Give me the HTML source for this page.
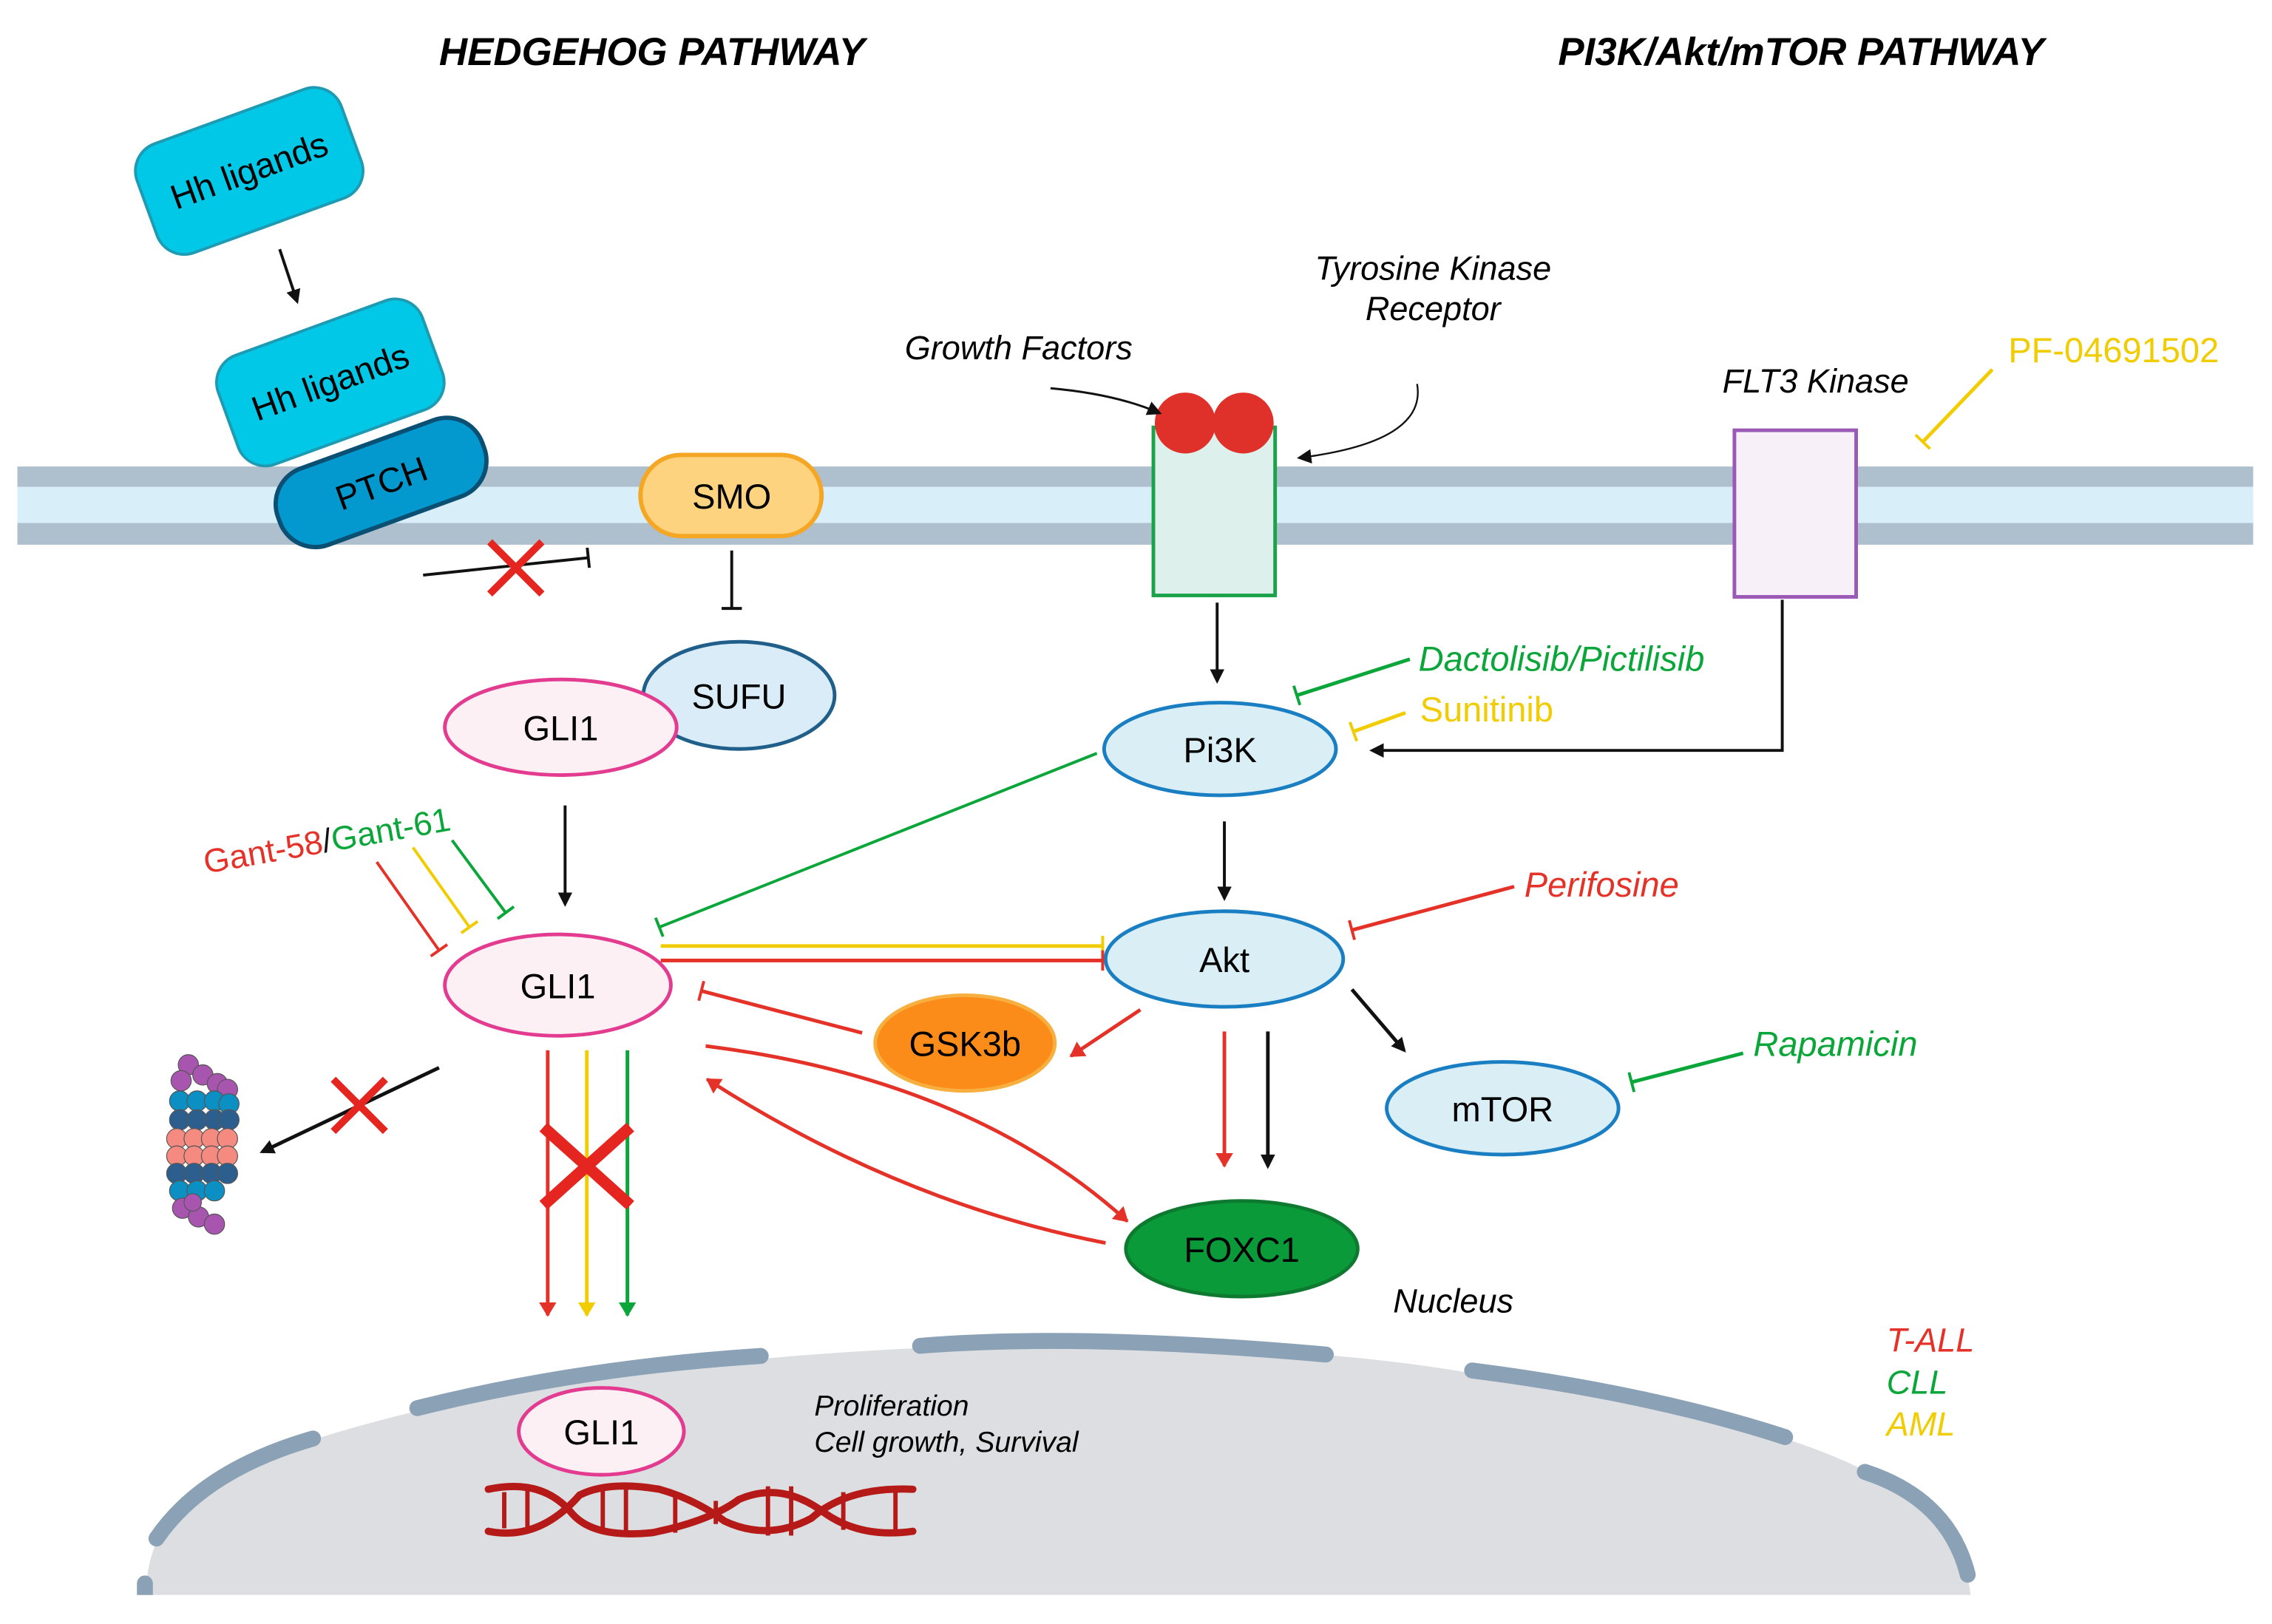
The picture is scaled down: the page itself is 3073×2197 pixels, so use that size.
<!DOCTYPE html>
<html><head><meta charset="utf-8"><style>
html,body{margin:0;padding:0;background:#fff;width:3073px;height:2197px;overflow:hidden;}
svg{display:block;}
text{font-family:"Liberation Sans",sans-serif;}
</style></head><body>
<svg width="3073" height="2197" viewBox="0 0 1568 1121" xmlns="http://www.w3.org/2000/svg">
<defs>
<marker id="ak" markerWidth="10" markerHeight="10" refX="8" refY="5" orient="auto" markerUnits="userSpaceOnUse"><path d="M0,0 L10,5 L0,10 Z" fill="#111"/></marker>
<marker id="ar" markerWidth="10" markerHeight="14" refX="9" refY="7" orient="auto" markerUnits="userSpaceOnUse"><path d="M0,1 L10,7 L0,13 Z" fill="#e53229"/></marker>
<marker id="ay" markerWidth="10" markerHeight="14" refX="9" refY="7" orient="auto" markerUnits="userSpaceOnUse"><path d="M0,1 L10,7 L0,13 Z" fill="#f0cc00"/></marker>
<marker id="ag" markerWidth="10" markerHeight="14" refX="9" refY="7" orient="auto" markerUnits="userSpaceOnUse"><path d="M0,1 L10,7 L0,13 Z" fill="#0aa63a"/></marker>
<marker id="tk" markerWidth="4" markerHeight="14" refX="2" refY="7" orient="auto" markerUnits="userSpaceOnUse"><path d="M2,0 L2,14" stroke="#111" stroke-width="2"/></marker>
<marker id="tr" markerWidth="4" markerHeight="14" refX="2" refY="7" orient="auto" markerUnits="userSpaceOnUse"><path d="M2,0 L2,14" stroke="#e53229" stroke-width="2"/></marker>
<marker id="ty" markerWidth="4" markerHeight="14" refX="2" refY="7" orient="auto" markerUnits="userSpaceOnUse"><path d="M2,0 L2,14" stroke="#f0cc00" stroke-width="2"/></marker>
<marker id="tg" markerWidth="4" markerHeight="14" refX="2" refY="7" orient="auto" markerUnits="userSpaceOnUse"><path d="M2,0 L2,14" stroke="#0aa63a" stroke-width="2"/></marker>
<clipPath id="nc"><rect x="0" y="0" width="1568" height="1101"/></clipPath>
</defs>

<!-- titles -->
<text x="450" y="45" font-size="27" font-weight="bold" font-style="italic" text-anchor="middle">HEDGEHOG PATHWAY</text>
<text x="1243" y="45" font-size="27" font-weight="bold" font-style="italic" text-anchor="middle">PI3K/Akt/mTOR PATHWAY</text>

<!-- nucleus -->
<g clip-path="url(#nc)">
<path d="M100,1101 L102,1085 Q110,1040 150,1020 Q200,995 288,974 Q400,945 525,938 Q635,928 745,928 Q915,930 1016,948 Q1140,965 1232,993 Q1345,1030 1358,1087 L1360,1101 Z" fill="#dcdee1"/>
<g fill="none" stroke="#8ba1b6" stroke-width="11" stroke-linecap="round">
<path d="M100,1093 L100,1110"/>
<path d="M108,1062 Q140,1015 216,993"/>
<path d="M288,972 Q400,944 525,936"/>
<path d="M635,929 Q745,920 915,935"/>
<path d="M1016,946 Q1140,962 1232,992"/>
<path d="M1287,1016 Q1345,1035 1358,1087"/>
</g>
</g>

<!-- membrane -->
<rect x="12" y="322" width="1543" height="54" fill="#aebfcd"/>
<rect x="12" y="336" width="1543" height="25" fill="#d8eef8"/>

<!-- Hh ligands -->
<g transform="translate(172,118) rotate(-20)"><rect x="-75" y="-40" width="150" height="80" rx="20" fill="#00c8e6" stroke="#1e9bb3" stroke-width="2"/><text x="0" y="8" font-size="24" text-anchor="middle">Hh ligands</text></g>
<line x1="193" y1="172" x2="205" y2="208" stroke="#111" stroke-width="2" marker-end="url(#ak)"/>
<g transform="translate(263,333) rotate(-20)"><rect x="-75" y="-28" width="150" height="56" rx="26" fill="#0399cf" stroke="#0b4f73" stroke-width="3"/><text x="0" y="9" font-size="24" text-anchor="middle">PTCH</text></g>
<g transform="translate(228,264) rotate(-20)"><rect x="-75" y="-40" width="150" height="80" rx="20" fill="#00c8e6" stroke="#1e9bb3" stroke-width="2"/><text x="0" y="8" font-size="24" text-anchor="middle">Hh ligands</text></g>

<line x1="292" y1="397" x2="406" y2="385" stroke="#111" stroke-width="2" marker-end="url(#tk)"/>
<g stroke="#e52620" stroke-width="5"><line x1="338" y1="374" x2="374" y2="410"/><line x1="374" y1="374" x2="338" y2="410"/></g>

<!-- SMO -->
<rect x="442" y="314" width="125" height="56" rx="28" fill="#fdd37f" stroke="#f5a623" stroke-width="3"/>
<text x="505" y="351" font-size="24" text-anchor="middle">SMO</text>
<line x1="505" y1="380" x2="505" y2="420" stroke="#111" stroke-width="2" marker-end="url(#tk)"/>

<!-- SUFU / GLI1 -->
<ellipse cx="510" cy="480" rx="66" ry="37" fill="#d9ecf7" stroke="#1f5f8a" stroke-width="2.5"/>
<text x="510" y="489" font-size="24" text-anchor="middle">SUFU</text>
<ellipse cx="387" cy="502" rx="80" ry="33" fill="#fdf0f5" stroke="#e23b8f" stroke-width="2.5"/>
<text x="387" y="511" font-size="24" text-anchor="middle">GLI1</text>
<line x1="390" y1="556" x2="390" y2="624" stroke="#111" stroke-width="2" marker-end="url(#ak)"/>

<ellipse cx="385" cy="680" rx="78" ry="35" fill="#fdf0f5" stroke="#e23b8f" stroke-width="2.5"/>
<text x="385" y="689" font-size="24" text-anchor="middle">GLI1</text>

<!-- Gant -->
<text transform="translate(142,603) rotate(-10)" font-size="23"><tspan fill="#e53229">Gant-58</tspan><tspan fill="#111">/</tspan><tspan fill="#0aa63a">Gant-61</tspan></text>
<line x1="260" y1="595" x2="303" y2="656" stroke="#e53229" stroke-width="2" marker-end="url(#tr)"/>
<line x1="285" y1="585" x2="324" y2="640" stroke="#f0cc00" stroke-width="2" marker-end="url(#ty)"/>
<line x1="312" y1="580" x2="349" y2="630" stroke="#0aa63a" stroke-width="2" marker-end="url(#tg)"/>

<!-- receptor -->
<rect x="796" y="295" width="84" height="116" fill="#ddf0ec" stroke="#1aa34a" stroke-width="2.5"/>
<circle cx="818" cy="292" r="21" fill="#e0302a"/>
<circle cx="858" cy="292" r="21" fill="#e0302a"/>
<text x="703" y="248" font-size="23" font-style="italic" text-anchor="middle">Growth Factors</text>
<path d="M725,268 Q770,272 800,285" fill="none" stroke="#111" stroke-width="1.5" marker-end="url(#ak)"/>
<text x="989" y="193" font-size="23" font-style="italic" text-anchor="middle">Tyrosine Kinase</text>
<text x="989" y="221" font-size="23" font-style="italic" text-anchor="middle">Receptor</text>
<path d="M978,265 Q985,305 897,316" fill="none" stroke="#111" stroke-width="1.2" marker-end="url(#ak)"/>

<!-- FLT3 -->
<text x="1253" y="271" font-size="23" font-style="italic" text-anchor="middle">FLT3 Kinase</text>
<rect x="1197" y="297" width="84" height="115" fill="#f8f0f8" stroke="#9b59b6" stroke-width="2.5"/>
<text x="1386" y="250" font-size="24" fill="#f0cc00">PF-04691502</text>
<line x1="1375" y1="255" x2="1327" y2="305" stroke="#f0cc00" stroke-width="2.5" marker-end="url(#ty)"/>
<polyline points="1230,414 1230,518 947,518" fill="none" stroke="#111" stroke-width="2" marker-end="url(#ak)"/>

<line x1="840" y1="416" x2="840" y2="470" stroke="#111" stroke-width="2" marker-end="url(#ak)"/>
<ellipse cx="842" cy="517" rx="80" ry="32" fill="#d9eef5" stroke="#1a7fc2" stroke-width="2.5"/>
<text x="842" y="526" font-size="24" text-anchor="middle">Pi3K</text>

<text x="979" y="463" font-size="24" font-style="italic" fill="#0aa63a">Dactolisib/Pictilisib</text>
<line x1="973" y1="455" x2="895" y2="480" stroke="#0aa63a" stroke-width="2.5" marker-end="url(#tg)"/>
<text x="980" y="498" font-size="24" fill="#f0cc00">Sunitinib</text>
<line x1="970" y1="492" x2="934" y2="505" stroke="#f0cc00" stroke-width="2.5" marker-end="url(#ty)"/>

<line x1="757" y1="520" x2="455" y2="640" stroke="#0aa63a" stroke-width="2" marker-end="url(#tg)"/>
<line x1="845" y1="567" x2="845" y2="620" stroke="#111" stroke-width="2" marker-end="url(#ak)"/>

<ellipse cx="845" cy="662" rx="82" ry="33" fill="#d9eef5" stroke="#1a7fc2" stroke-width="2.5"/>
<text x="845" y="671" font-size="24" text-anchor="middle">Akt</text>
<text x="1052" y="619" font-size="24" font-style="italic" fill="#e53229">Perifosine</text>
<line x1="1045" y1="612" x2="933" y2="642" stroke="#e53229" stroke-width="2.5" marker-end="url(#tr)"/>

<line x1="456" y1="653" x2="761" y2="653" stroke="#f0cc00" stroke-width="2.5" marker-end="url(#ty)"/>
<line x1="456" y1="663" x2="761" y2="663" stroke="#e53229" stroke-width="2.5" marker-end="url(#tr)"/>
<line x1="595" y1="713" x2="484" y2="684" stroke="#e53229" stroke-width="2.5" marker-end="url(#tr)"/>

<ellipse cx="666" cy="720" rx="62" ry="33" fill="#fb8c1a" stroke="#f7b040" stroke-width="2.5"/>
<text x="666" y="729" font-size="24" text-anchor="middle">GSK3b</text>
<line x1="787" y1="697" x2="739" y2="729" stroke="#e53229" stroke-width="2.5" marker-end="url(#ar)"/>
<line x1="933" y1="683" x2="969" y2="725" stroke="#111" stroke-width="2.5" marker-end="url(#ak)"/>

<ellipse cx="1037" cy="765" rx="80" ry="32" fill="#d9eef5" stroke="#1a7fc2" stroke-width="2.5"/>
<text x="1037" y="774" font-size="24" text-anchor="middle">mTOR</text>
<text x="1210" y="729" font-size="24" font-style="italic" fill="#0aa63a">Rapamicin</text>
<line x1="1203" y1="727" x2="1126" y2="747" stroke="#0aa63a" stroke-width="2.5" marker-end="url(#tg)"/>

<line x1="845" y1="712" x2="845" y2="805" stroke="#e53229" stroke-width="2.5" marker-end="url(#ar)"/>
<line x1="875" y1="712" x2="875" y2="805" stroke="#111" stroke-width="2.5" marker-end="url(#ak)"/>

<ellipse cx="857" cy="862" rx="80" ry="33" fill="#0a9a3a" stroke="#0d7a30" stroke-width="2.5"/>
<text x="857" y="871" font-size="24" text-anchor="middle">FOXC1</text>
<path d="M487,722 Q670,745 778,843" fill="none" stroke="#e53229" stroke-width="2.5" marker-end="url(#ar)"/>
<path d="M763,858 Q620,830 488,745" fill="none" stroke="#e53229" stroke-width="2.5" marker-end="url(#ar)"/>

<text x="1003" y="906" font-size="23" font-style="italic" text-anchor="middle">Nucleus</text>

<!-- GLI1 down arrows -->
<line x1="378" y1="725" x2="378" y2="908" stroke="#e53229" stroke-width="2.5" marker-end="url(#ar)"/>
<line x1="405" y1="725" x2="405" y2="908" stroke="#f0cc00" stroke-width="2.5" marker-end="url(#ay)"/>
<line x1="433" y1="725" x2="433" y2="908" stroke="#0aa63a" stroke-width="2.5" marker-end="url(#ag)"/>
<g stroke="#e52620" stroke-width="8"><line x1="375" y1="778" x2="435" y2="832"/><line x1="435" y1="778" x2="375" y2="832"/></g>

<line x1="303" y1="737" x2="181" y2="795" stroke="#111" stroke-width="2.5" marker-end="url(#ak)"/>
<g stroke="#e52620" stroke-width="5"><line x1="230" y1="745" x2="266" y2="781"/><line x1="266" y1="745" x2="230" y2="781"/></g>

<!-- chromatin -->
<g stroke="#555" stroke-width="0.6">
<g fill="#a855b0"><circle cx="130" cy="735" r="7"/><circle cx="140" cy="742" r="7"/><circle cx="150" cy="748" r="7"/><circle cx="157" cy="752" r="7"/><circle cx="125" cy="746" r="7"/></g>
<g fill="#0c8fc2"><circle cx="124" cy="760" r="7"/><circle cx="136" cy="760" r="7"/><circle cx="148" cy="760" r="7"/><circle cx="158" cy="762" r="7"/></g>
<g fill="#2d5f8e"><circle cx="124" cy="773" r="7"/><circle cx="136" cy="773" r="7"/><circle cx="148" cy="773" r="7"/><circle cx="158" cy="773" r="7"/></g>
<g fill="#f58a80"><circle cx="122" cy="786" r="7"/><circle cx="134" cy="786" r="7"/><circle cx="146" cy="786" r="7"/><circle cx="157" cy="786" r="7"/><circle cx="122" cy="798" r="7"/><circle cx="134" cy="798" r="7"/><circle cx="146" cy="798" r="7"/><circle cx="157" cy="798" r="7"/></g>
<g fill="#2d5f8e"><circle cx="122" cy="810" r="7"/><circle cx="134" cy="810" r="7"/><circle cx="146" cy="810" r="7"/><circle cx="157" cy="810" r="7"/></g>
<g fill="#0c8fc2"><circle cx="124" cy="822" r="7"/><circle cx="136" cy="822" r="7"/><circle cx="148" cy="822" r="7"/></g>
<g fill="#a855b0"><circle cx="126" cy="834" r="7"/><circle cx="137" cy="840" r="7"/><circle cx="148" cy="845" r="7"/><circle cx="133" cy="830" r="6"/></g>
</g>

<!-- nucleus contents -->
<ellipse cx="415" cy="988" rx="57" ry="30" fill="#fdf0f5" stroke="#e23b8f" stroke-width="2.5"/>
<text x="415" y="997" font-size="24" text-anchor="middle">GLI1</text>
<text x="562" y="977" font-size="20" font-style="italic">Proliferation</text>
<text x="562" y="1002" font-size="20" font-style="italic">Cell growth, Survival</text>
<g fill="none" stroke="#b51a18" stroke-width="5" stroke-linecap="round">
<path d="M337,1028 Q375,1020 395,1045 Q410,1062 450,1058 Q490,1050 510,1035 Q540,1022 570,1045 Q595,1062 630,1057"/>
<path d="M337,1057 Q372,1064 400,1032 Q420,1022 455,1028 Q480,1035 500,1050 Q530,1064 560,1048 Q585,1026 630,1028"/>
</g>
<g stroke="#b51a18" stroke-width="3">
<line x1="348" y1="1030" x2="348" y2="1055"/><line x1="364" y1="1028" x2="364" y2="1058"/><line x1="416" y1="1028" x2="416" y2="1058"/><line x1="432" y1="1026" x2="432" y2="1058"/><line x1="466" y1="1030" x2="466" y2="1058"/><line x1="494" y1="1036" x2="494" y2="1052"/><line x1="530" y1="1026" x2="530" y2="1060"/><line x1="546" y1="1026" x2="546" y2="1060"/><line x1="582" y1="1030" x2="582" y2="1056"/><line x1="618" y1="1030" x2="618" y2="1056"/>
</g>

<text x="1302" y="933" font-size="23" font-style="italic" fill="#e53229">T-ALL</text>
<text x="1302" y="962" font-size="23" font-style="italic" fill="#0aa63a">CLL</text>
<text x="1302" y="991" font-size="23" font-style="italic" fill="#f0cc00">AML</text>
</svg>
</body></html>
